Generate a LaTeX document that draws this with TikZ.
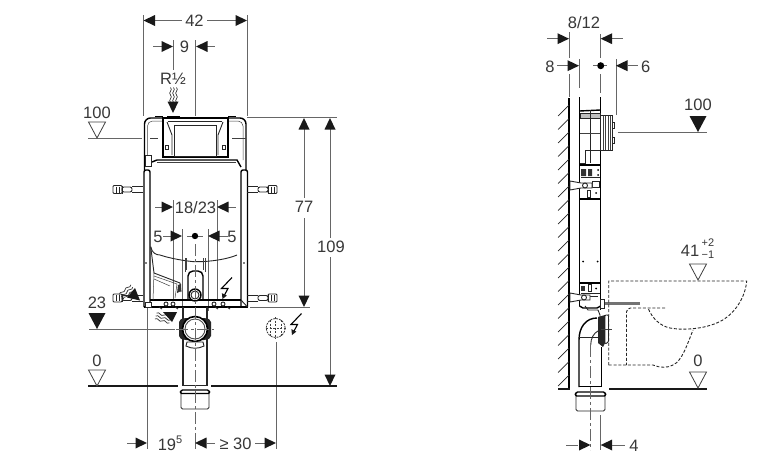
\documentclass[tikz,border=0pt]{standalone}
\usepackage{fontspec}
\setmainfont{Liberation Sans}
\usetikzlibrary{calc}
\definecolor{txt}{gray}{0.22}
\definecolor{ext}{gray}{0.4}
\tikzset{
  lab/.style={text=txt,inner sep=0pt,font=\fontsize{16.5}{18}\selectfont},
  extl/.style={draw=ext,line width=0.8pt},
  tick/.style={draw=ext,line width=0.9pt},
  heavy/.style={draw=black,line width=1.4pt},
  med/.style={draw=black!85,line width=0.9pt},
  thin line/.style={draw=black!75,line width=0.5pt},
  center line/.style={draw=ext,line width=0.8pt,dash pattern=on 12pt off 3pt on 3pt off 3pt},
  wc/.style={draw=black!85,line width=0.9pt,dash pattern=on 3pt off 1.8pt},
  floor/.style={draw=black!90,line width=1.4pt},
  head/.style={fill=black!90},
  level/.style={draw=black!75,line width=0.8pt,fill=white}
}
% arrow heads: tip at (#1,#2)
\newcommand\hR[2]{\fill[head] (#1,#2) -- ++(-11.5,-5.5) -- ++(0,11) -- cycle;}
\newcommand\hL[2]{\fill[head] (#1,#2) -- ++(11.5,-5.5) -- ++(0,11) -- cycle;}
\newcommand\hU[2]{\fill[head] (#1,#2) -- ++(-5.5,11.5) -- ++(11,0) -- cycle;}
\newcommand\hD[2]{\fill[head] (#1,#2) -- ++(-5.5,-11.5) -- ++(11,0) -- cycle;}
% level marks: tip at (#1,#2)
\newcommand\lvlOpen[2]{\draw[level] (#1,#2) -- ++(-8.5,-16) -- ++(17,0) -- cycle;}
\newcommand\lvlFull[2]{\fill[head] (#1,#2) -- ++(-8.5,-16) -- ++(17,0) -- cycle;}
% three wavy strokes
\newcommand\wavelet[3]{\begin{scope}[shift={(#1,#2)},rotate=#3]
  \foreach \dd in {-3,0,3}{\draw[draw=black!80,line width=0.7pt] (\dd,-7.5) .. controls (\dd+3,-5) and (\dd-3,-2.5) .. (\dd,0) .. controls (\dd+3,2.5) and (\dd-3,5) .. (\dd,7.5);}
\end{scope}}
% lightning
\newcommand\bolt[2]{\begin{scope}[shift={(#1,#2)}]
  \draw[draw=black,line width=1.1pt,line join=miter] (5.5,-10.5) -- (-5,0.5) -- (1.5,0.5) -- (-2.5,8);
  \fill[head] (-4,11) -- (-4.6,5.2) -- (0.4,7.6) -- cycle;
\end{scope}}
% horizontal wall bracket
\newcommand\bracketL[2]{\begin{scope}[shift={(#1,#2)}]
  \draw[med,fill=white,rounded corners=1pt] (0,-4) rectangle (9,4);
  \draw[med,fill=white,rounded corners=2pt] (9,-2.5) rectangle (19,2.5);
  \draw[med] (9,-4) -- (9,4) (3,-3) -- (3,3) (6,-3) -- (6,3);
  \draw[med] (19,-3) -- (30,-3) (19,3) -- (30,3);
\end{scope}}
\newcommand\bracketR[2]{\begin{scope}[shift={(#1,#2)},xscale=-1]
  \draw[med,fill=white,rounded corners=1pt] (0,-4) rectangle (9,4);
  \draw[med,fill=white,rounded corners=2pt] (9,-2.5) rectangle (19,2.5);
  \draw[med] (9,-4) -- (9,4) (3,-3) -- (3,3) (6,-3) -- (6,3);
  \draw[med] (19,-3) -- (30,-3) (19,3) -- (30,3);
\end{scope}}
\begin{document}
\begin{tikzpicture}[x=1pt,y=-1pt]
\useasboundingbox (0,0) rectangle (773,463);
\fill[white] (0,0) rectangle (773,463);

%% ================= FRONT VIEW =================
% extension lines
\draw[extl] (143.5,15) -- (143.5,116);
\draw[extl] (247,15) -- (247,116);
\draw[extl] (173,40) -- (173,70);
\draw[extl] (195,40) -- (195,116);
\draw[extl] (247,117.5) -- (337,117.5);
\draw[extl] (250,307.5) -- (310,307.5);
\draw[extl] (173,200) -- (173,300);
\draw[extl] (217,200) -- (217,300);
\draw[extl] (182,229) -- (182,311);
\draw[extl] (208,229) -- (208,311);
\draw[extl] (147,303) -- (147,449);
\draw[extl] (276,342) -- (276,449);
\draw[extl] (195,437) -- (195,449);

% frame: top housing
\draw[heavy,rounded corners=6pt] (144.5,170) -- (144.5,118) -- (246,118) -- (246,170);
\draw[thin line,rounded corners=5pt] (147.5,160) -- (147.5,121) -- (243,121) -- (243,160);
\draw[heavy,fill=white] (163,118) rectangle (228,157);
\draw[med,fill=white] (174,125) rectangle (216,156);
\draw[med] (168,121) -- (222,121);
\draw[med] (167,122) -- (172,135) -- (172,155);
\draw[med] (223,122) -- (218,135) -- (218,155);
\draw[med] (165,145) rectangle (168,149);
\draw[med] (222,145) rectangle (225,149);
\draw[thin line] (150,138.5) -- (158,138.5);
\draw[thin line] (232,138.5) -- (246,138.5);
\draw[heavy] (155,116.5) -- (163,116.5);
\draw[heavy] (167,116.5) -- (180,116.5);
\draw[heavy] (228,116.5) -- (236,116.5);
\draw[heavy] (152,162) -- (157,160) -- (237,160) -- (241,167);
\draw[thin line] (157,162) -- (236,162);
\draw[med,fill=white] (145,155) rectangle (151,166);
% columns
\draw[heavy,rounded corners=2pt] (150,307) -- (150,170) -- (144,170) -- (144,307);
\draw[heavy,rounded corners=2pt] (241,307) -- (241,170) -- (247.5,170) -- (247.5,307);
\draw[heavy] (144,307) -- (247.5,307);
\draw[heavy] (150,300) -- (241,300);
\draw[med] (145,302.5) -- (150,302.5);
\fill[black] (146,263) circle (0.8) (244,263) circle (0.8);
% tank
\draw[med] (150.7,246.7) .. controls (152,253) and (156,255) .. (160,255) .. controls (175,260) and (195,262) .. (195,261.7) .. controls (210,262) and (228,259) .. (237,255);
\draw[med] (150.7,246.7) -- (154,273) -- (180,283) -- (181,292);
\draw[thin line] (154,276) -- (177,284) -- (175,298);
\draw[thin line] (154,279) -- (170,286);
\draw[thin line] (154,273) -- (153,300);
\fill[black!80] (178,285) -- (181,284) -- (181,291) -- (177,293) -- cycle;
% elbow in frame
\draw[heavy,rounded corners=5pt] (188,300) -- (188,271) -- (203,271) -- (203,300);
\draw[thin line] (185,258) -- (185,272) (186.5,258) -- (186.5,270);
\draw[thin line] (205,258) -- (205,272) (203.5,258) -- (203.5,270);
\draw[heavy,fill=white] (195,295) circle (6);
\draw[med] (195,295) circle (4);
% frame bottom details
\foreach \px in {166,173,214,223}{\draw[med,fill=white] (\px,304) circle (2);}
\draw[med,fill=white] (145,302) rectangle (151,307);
\foreach \px in {160,176,216,228}{\draw[med] (\px-1,307) -- (\px+2,309);}
\draw[med] (241,300) -- (247.5,307);
% brackets
\bracketL{113}{189.5}
\bracketR{277}{189.5}
\bracketL{113}{298}
\bracketR{277}{298}
% elbow below frame
\draw[med,line width=1.2pt] (183,307) -- (183,385.5) -- (207,385.5) -- (207,307);
\fill[black!85,rounded corners=2pt] (179,320) -- (184,318) -- (206,318) -- (211,320) -- (211,338) -- (206,340) -- (184,340) -- (179,338) -- cycle;
\draw[draw=black,line width=1.6pt,fill=white] (195,329) circle (12.5);
\draw[draw=black!70,line width=0.9pt] (195,329) circle (10);
\draw[med,fill=white] (187,342) -- (203,342) -- (204,346) .. controls (198,349) and (192,349) .. (186,346) -- cycle;
\draw[center line] (176,329) -- (214,329);
% stub
\draw[med,rounded corners=1.5pt] (181,392) -- (181,409) -- (209,409) -- (209,392);
\draw[heavy,rounded corners=1.5pt] (180,393.5) -- (181,390) -- (209,390) -- (210,393.5) -- cycle;
% centre line
\draw[center line] (195,244) -- (195,437);
% electric box
\draw[draw=black!80,line width=0.8pt,dash pattern=on 2pt off 1pt] (275.7,328) circle (9.5);
\draw[draw=black!75,line width=0.6pt,dash pattern=on 2pt off 1.5pt] (266,328) -- (287,328) (275.7,317) -- (275.7,339) (270,320) -- (270,336) (281.5,320) -- (281.5,336);
\bolt{226.5}{288}
\bolt{296}{324}
% waves
\wavelet{173.5}{95}{0}
\hD{173}{113}
\wavelet{127}{292}{-50}
\fill[head] (140,300.5) -- (127,297.5) -- (135,288) -- cycle;
\wavelet{163}{318}{75}
\fill[head] (177,312) -- (172,322) -- (163,312) -- cycle;

% floor, levels
\draw[floor] (88,386) -- (178,386);
\draw[floor] (211,386) -- (337,386);
\draw[tick] (88,138.5) -- (142,138.5);
\draw[tick] (89,329) -- (175,329);
\lvlOpen{97}{138}
\lvlFull{97}{329}
\lvlOpen{97}{386}
\node[lab] (lv100a) at (97,113) {100};
\node[lab] (lv23) at (97,303) {23};
\node[lab] (lv0a) at (97,361) {0};

% dim 42
\draw[tick] (155,20.5) -- (182,20.5);
\draw[tick] (207,20.5) -- (236,20.5);
\hL{143.5}{20.5}\hR{247}{20.5}
\node[lab] (d42) at (194.5,21) {42};
% dim 9
\draw[tick] (153,46.5) -- (162,46.5);
\draw[tick] (207,46.5) -- (215,46.5);
\hR{173}{46.5}\hL{196}{46.5}
\node[lab] (d9) at (184.5,47) {9};
\node[lab] (rh) at (173,79) {R½};
% dim 18/23
\draw[tick] (155,207) -- (162,207);
\draw[tick] (228,207) -- (236,207);
\hR{173}{207}\hL{217}{207}
\node[lab] (d1823) at (195.5,207.5) {18/23};
% dim 5 5
\draw[tick] (163,236) -- (171,236);
\draw[tick] (219,236) -- (228,236);
\draw[tick] (187,236) -- (192,236) (198,236) -- (203,236);
\hR{182}{236}\hL{208}{236}
\fill[black] (195,236) circle (3.2);
\node[lab] (d5a) at (158,236.5) {5};
\node[lab] (d5b) at (232,236.5) {5};
% dim 77
\draw[tick] (304,129) -- (304,198);
\draw[tick] (304,218) -- (304,296);
\hU{304}{118}\hD{304}{307}
\node[lab] (d77) at (304,207) {77};
% dim 109
\draw[tick] (330,129) -- (330,238);
\draw[tick] (330,257) -- (330,375);
\hU{330}{118}\hD{330}{386}
\node[lab] (d109) at (331,247) {109};
% dim 19.5 and 30
\draw[tick] (127,443) -- (136,443);
\hR{147}{443}
\node[lab] (d195) at (170,443.5) {19\raisebox{0.42em}{\fontsize{11}{11}\selectfont 5}};
\hL{195}{443}
\draw[tick] (206,443) -- (215,443);
\node[lab] (d30) at (235.5,443.5) {≥ 30};
\draw[tick] (255,443) -- (265,443);
\hR{276}{443}

%% ================= SIDE VIEW =================
% wall
\draw[draw=black,line width=1.4pt] (569,98) -- (569,389);
\foreach \hy in {105,118.5,...,380}{\draw[draw=black!85,line width=0.7pt] (569,\hy) -- (558,\hy+11);}
% extensions
\draw[extl] (569,32) -- (569,58);
\draw[extl] (569,74) -- (569,97);
\draw[extl] (579.5,59) -- (579.5,88);
\draw[extl] (600.7,34) -- (600.7,58);
\draw[extl] (600.7,74) -- (600.7,93);
\draw[extl] (616,59) -- (616,115);
% frame
\draw[heavy] (579.5,97) -- (579.5,306);
\draw[heavy] (600.7,97) -- (600.7,310);
\draw[heavy] (579.5,111) -- (600.7,110);
\draw[med,fill=black!25] (580.5,113) rectangle (600,118);
\draw[med] (590,110) -- (590,163);
\draw[thin line] (580,133) -- (600,133);
\draw[med] (580,163) -- (585,163) -- (585,150) -- (600,150);
% housing box
\draw[med,fill=white] (600.7,115.7) rectangle (612.7,150);
\foreach \vx in {603,605.4,607.8,610.2}{\draw[thin line] (\vx,116) -- (\vx,150);}
\draw[med] (613,122) -- (614,122) -- (614,128) -- (613,128) (613,137) -- (614,137) -- (614,143) -- (613,143);
% upper dark block
\draw[heavy] (579.5,165) -- (600.7,165);
\draw[heavy] (579.5,199) -- (600.7,199);
\fill[black!80] (581,169) rectangle (586,176) (588,169) rectangle (592,176);
\draw[med] (581,177) -- (600,177);
\draw[med] (592,181) rectangle (599,187);
\draw[med] (587,190) rectangle (590,197);
\fill[black] (596,193) circle (1) (598,170) circle (1) (598,175) circle (1);
\draw[med,fill=white] (570,181) -- (581,183) -- (592,183) -- (592,188) -- (581,188) -- (570,190) -- cycle;
\draw[med] (585,185.5) circle (2.5);
% dots
\fill[black] (583,261.5) circle (1) (597.5,261.5) circle (1);
% lower block
\draw[heavy] (579.5,283) -- (600.7,283);
\draw[med] (588,284) rectangle (591,291);
\fill[black] (596,288.5) circle (1);
\fill[black!80] (581,286) rectangle (585,291);
\draw[med] (581,293) -- (600,293);
\draw[med] (590,296) -- (598,296);
\draw[med,fill=white] (570,293) -- (581,295) -- (590,295) -- (590,300) -- (581,300) -- (570,302) -- cycle;
\draw[med] (584,297.5) circle (2.5);
\draw[heavy] (579.5,306) -- (583,308) -- (597,308) -- (600.7,306);
% rod
\draw[draw=black!55,line width=3pt] (603,303.5) -- (640,303.5);
\draw[med,fill=white] (600.7,299) rectangle (604,308);
% pipe
\draw[heavy] (579,387) -- (579,340) .. controls (579,327) and (586,318) .. (597,318);
\draw[heavy] (601.7,387) -- (601.7,347);
\draw[heavy] (579,386.5) -- (601.7,386.5);
\draw[med] (579,337) -- (598,337);
\draw[med] (590.7,345) .. controls (590.7,338) and (594,333) .. (598,331);
\draw[med] (585,306) -- (588,310) -- (598,310) -- (600,315) -- (600,318);
\fill[black!85] (598,317) -- (605,315) -- (605,343) -- (603,347) -- (598,343) -- cycle;
\draw[med,fill=white,rounded corners=1pt] (605,315) -- (608.5,315) -- (608.5,342) -- (605,344) -- cycle;
\draw[thin line] (601,329) -- (612,329);
% stub
\draw[med,rounded corners=1.5pt] (576,392.5) -- (576,411) -- (605,411) -- (605,392.5);
\draw[heavy,rounded corners=1.5pt] (575,396) -- (576,392) -- (605,392) -- (606,396) -- cycle;
% center line
\draw[center line] (590.7,345) -- (590.7,450);
\draw[extl] (600.7,415) -- (600.7,450);

% floor
\draw[floor] (558,389) -- (570,389);
\draw[floor] (609,389) -- (707,389);

% WC outline
\draw[wc] (608.7,365) -- (608.7,281) -- (746.7,281)
  .. controls (745,300) and (732,317) .. (716.7,323)
  .. controls (700,330) and (680,330) .. (670,328)
  .. controls (660,326) and (652,318) .. (648,308);
\draw[wc,rounded corners=4pt] (665,308) -- (626.5,308) -- (626.5,365);
\draw[wc] (608.7,365) -- (653,365) .. controls (660,368) and (668,368) .. (673,365)
  .. controls (682,361) and (687,345) .. (693,330);

% level marks
\draw[tick] (618,132.7) -- (707,132.7);
\lvlFull{698}{132}
\node[lab] (lv100b) at (698,104.5) {100};
\lvlOpen{698}{280}
\node[lab] (d41) at (690,250.7) {41};
\node[lab,font=\fontsize{11}{12}\selectfont] (d41p) at (708,242.5) {+2};
\node[lab,font=\fontsize{11}{12}\selectfont] (d41m) at (708,254.5) {−1};
\lvlOpen{698}{388}
\node[lab] (lv0b) at (698,360.5) {0};

% dim 8/12
\node[lab] (d812) at (584,22.5) {8/12};
\draw[tick] (547,38.7) -- (558,38.7);
\draw[tick] (612,38.7) -- (623,38.7);
\hR{569}{38.7}\hL{600.7}{38.7}
% dim 8, 6
\node[lab] (d8) at (550,66.5) {8};
\draw[tick] (557,65.7) -- (568,65.7);
\hR{579}{65.7}
\draw[tick] (593,65.7) -- (597,65.7) (604,65.7) -- (607,65.7);
\fill[black] (600.7,65.7) circle (3.5);
\hL{616}{65.7}
\draw[tick] (627,65.7) -- (638,65.7);
\node[lab] (d6) at (645.7,66.5) {6};
% dim 4
\draw[tick] (566,445) -- (578,445);
\hR{590.5}{445}\hL{600.7}{445}
\draw[tick] (612,445) -- (625,445);
\node[lab] (d4) at (634,445.5) {4};
\end{tikzpicture}
\end{document}
